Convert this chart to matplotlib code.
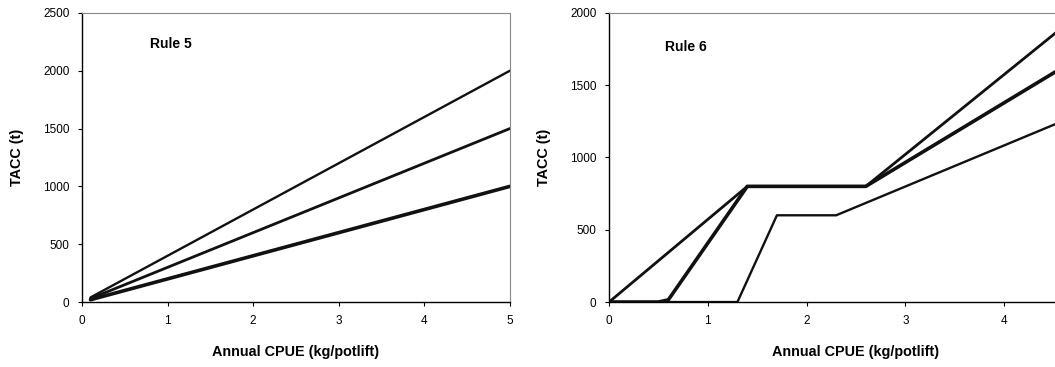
import matplotlib
matplotlib.use("Agg")
import matplotlib.pyplot as plt

plt.rcParams['font.family'] = ['Liberation Sans', 'DejaVu Sans']

# Rule 5 data
r5_x = [0.1, 5.0]
r5_high = [40, 2000]
r5_mid = [30, 1500]
r5_low = [20, 1000]

# Rule 6 data
r6_a_x = [0.0, 1.4, 2.6, 5.0]
r6_a_y = [0, 800, 800, 2125]
r6_b_x = [0.0, 0.5, 0.6, 1.4, 2.6, 5.0]
r6_b_y = [0, 0, 15, 800, 800, 1790]
r6_c_x = [0.0, 1.3, 1.7, 2.3, 5.0]
r6_c_y = [0, 0, 600, 600, 1367]

r5_xticks = [0, 1, 2, 3, 4, 5]
r6_xticks = [0, 1, 2, 3, 4]
r5_yticks = [0, 500, 1000, 1500, 2000, 2500]
r6_yticks = [0, 500, 1000, 1500, 2000]

fig = plt.figure(figsize=(10.55, 3.67), dpi=100)

def style(ax, ymax, xticks, yticks):
    ax.set_xlim(0, 5)
    ax.set_ylim(0, ymax)
    ax.set_xticks(xticks)
    ax.set_yticks(yticks)
    for s in ['top', 'right']:
        ax.spines[s].set_color('#888888')
        ax.spines[s].set_linestyle((0, (1, 1)))
        ax.spines[s].set_linewidth(0.8)
    for s in ['left', 'bottom']:
        ax.spines[s].set_color('black')
        ax.spines[s].set_linewidth(1.0)
    ax.tick_params(direction='out', length=3, width=0.8, labelsize=8.5, pad=6)
    ax.set_xlabel('Annual CPUE (kg/potlift)', fontsize=10.4, fontweight='bold', labelpad=13)
    ax.set_ylabel('TACC (t)', fontsize=10.4, fontweight='bold', labelpad=14)

ax1 = fig.add_axes([0.0777, 0.177, 0.4057, 0.788])
ax1.plot(r5_x, r5_high, color='#111111', lw=1.7, solid_capstyle='round')
ax1.plot(r5_x, r5_mid, color='#111111', lw=2.0, solid_capstyle='round')
ax1.plot(r5_x, r5_low, color='#111111', lw=2.6, solid_capstyle='round')
style(ax1, 2500, r5_xticks, r5_yticks)
ax1.text(0.79, 2230, 'Rule 5', fontsize=10, fontweight='bold', va='center')

ax2 = fig.add_axes([0.5773, 0.177, 0.468, 0.788])
ax2.plot(r6_a_x, r6_a_y, color='#111111', lw=2.0, solid_capstyle='round')
ax2.plot(r6_b_x, r6_b_y, color='#111111', lw=2.6, solid_capstyle='round')
ax2.plot(r6_c_x, r6_c_y, color='#111111', lw=1.7, solid_capstyle='round')
style(ax2, 2000, r6_xticks, r6_yticks)
ax2.text(0.57, 1763, 'Rule 6', fontsize=10, fontweight='bold', va='center')

fig.savefig('out.png', dpi=100)
